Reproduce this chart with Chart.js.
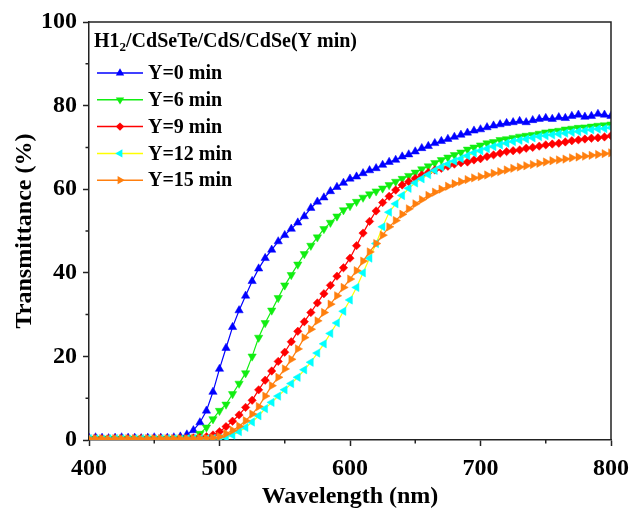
<!DOCTYPE html>
<html>
<head>
<meta charset="utf-8">
<script src="https://cdn.jsdelivr.net/npm/chart.js@4.4.1/dist/chart.umd.min.js"></script>
<style>
  html, body { margin: 0; padding: 0; background: #fff; }
  #box { width: 630px; height: 511px; }
</style>
</head>
<body>
<div id="box"><canvas id="chartTrans"></canvas></div>
<script>
// wavelength grid (nm)
const wavelength = [400, 405, 410, 415, 420, 425, 430, 435, 440, 445, 450, 455, 460, 465, 470, 475, 480, 485, 490, 495,
  500, 505, 510, 515, 520, 525, 530, 535, 540, 545, 550, 555, 560, 565, 570, 575, 580, 585, 590, 595,
  600, 605, 610, 615, 620, 625, 630, 635, 640, 645, 650, 655, 660, 665, 670, 675, 680, 685, 690, 695,
  700, 705, 710, 715, 720, 725, 730, 735, 740, 745, 750, 755, 760, 765, 770, 775, 780, 785, 790, 795, 800];

const y0min = [0.5, 0.6, 0.5, 0.4, 0.5, 0.6, 0.5, 0.5, 0.4, 0.5, 0.6, 0.5, 0.5, 0.6, 0.8, 1.3, 2.3, 4.2, 7, 11.5,
  17, 22, 27, 31, 34.5, 38, 41, 43.5, 45.5, 47.5, 49, 50.5, 52, 53.5, 55.5, 57, 58, 59.5, 60.5, 61.5,
  62.5, 63, 63.8, 64.5, 65, 65.8, 66.5, 67, 67.8, 68.3, 69, 69.8, 70.3, 71, 71.5, 72, 72.5, 73, 73.5, 74,
  74.3, 74.8, 75.2, 75.5, 75.8, 76, 76.3, 76, 76.5, 76.8, 77, 76.8, 77.2, 77, 77.5, 77.8, 77.3, 77.5, 78, 77.8, 77.5];

const y6min = [0.3, 0.2, 0.3, 0.3, 0.2, 0.3, 0.3, 0.2, 0.3, 0.3, 0.2, 0.3, 0.3, 0.3, 0.4, 0.4, 0.6, 1.5, 3, 5,
  7, 8.5, 11, 13.5, 16, 20, 24.5, 28, 31, 34, 37, 39.5, 42, 44.5, 46.5, 48.5, 50.5, 52, 53.5, 55,
  56, 57, 58, 58.8, 59.5, 60.2, 61, 61.8, 62.5, 63.2, 64, 64.8, 65.5, 66.3, 67, 67.6, 68.2, 68.8, 69.5, 70,
  70.5, 71, 71.3, 71.8, 72, 72.3, 72.6, 72.8, 73, 73.3, 73.6, 73.8, 74, 74.3, 74.5, 74.7, 74.8, 75, 75.2, 75.3, 75.5];

const y9min = [0.3, 0.4, 0.3, 0.3, 0.4, 0.3, 0.3, 0.3, 0.4, 0.3, 0.3, 0.4, 0.3, 0.3, 0.4, 0.4, 0.5, 0.6, 0.8, 1.2,
  2, 3.2, 4.5, 6, 7.8, 9.5, 12, 14.3, 16.5, 18.8, 21, 23.5, 26, 28.3, 30.5, 32.8, 35, 37, 39.2, 41.2,
  43.5, 46.5, 49.5, 52.3, 54.8, 56.8, 58.3, 59.8, 61, 61.8, 62.6, 63.4, 64, 64.6, 65, 65.5, 66, 66.3, 66.5, 67,
  67.3, 67.8, 68.2, 68.6, 69, 69.2, 69.4, 69.8, 70, 70.3, 70.6, 70.8, 71, 71.3, 71.6, 71.8, 72, 72.2, 72.3, 72.5, 72.8];

const y12min = [0.3, 0.3, 0.2, 0.3, 0.3, 0.3, 0.2, 0.3, 0.3, 0.3, 0.2, 0.3, 0.3, 0.3, 0.2, 0.3, 0.3, 0.3, 0.3, 0.4,
  0.4, 0.6, 1.2, 2, 3, 4.3, 5.8, 7.5, 9, 10.5, 12, 13.5, 15, 16.8, 18.6, 20.8, 23, 25.5, 28, 30.8,
  33.5, 36.5, 40, 43.5, 47, 51, 54.5, 56.5, 58.5, 60.2, 61.5, 62.5, 63.5, 64.5, 65.3, 66, 66.7, 67.3, 68, 68.7,
  69.2, 69.7, 70.2, 70.6, 71, 71.4, 71.7, 72, 72.3, 72.6, 72.8, 73, 73.2, 73.4, 73.6, 73.8, 74, 74.2, 74.4, 74.5, 74.7];

const y15min = [0.3, 0.3, 0.3, 0.2, 0.3, 0.3, 0.3, 0.3, 0.2, 0.3, 0.3, 0.3, 0.3, 0.3, 0.3, 0.3, 0.3, 0.4, 0.4, 0.5,
  0.8, 1.5, 2.3, 3.3, 4.6, 6.2, 8, 10.5, 13, 15, 17, 19.3, 21.8, 24.5, 26.5, 28.5, 30.5, 32.5, 34.5, 36.5,
  38.5, 40.5, 42.8, 45, 47, 49, 51, 52.5, 54, 55.3, 56.5, 57.5, 58.5, 59.3, 60, 60.7, 61.3, 61.8, 62.3, 62.7,
  63, 63.4, 63.8, 64.2, 64.6, 65, 65.3, 65.6, 65.9, 66.2, 66.5, 66.8, 67, 67.2, 67.5, 67.7, 67.9, 68.1, 68.3, 68.5, 68.7];

const seriesNames = ['Y=0 min', 'Y=6 min', 'Y=9 min', 'Y=12 min', 'Y=15 min'];
const xMinor = [450, 550, 650, 750];
const yMinor = [10, 30, 50, 70, 90];

const serif = '"Liberation Serif", "Times New Roman", serif';

function pares(lista) {
  return wavelength.map((w, i) => ({ x: w, y: lista[i] }));
}

function serie(nome, lista, linha, cor, estilo, rot, ordem) {
  return {
    label: nome,
    data: pares(lista),
    borderColor: linha,
    borderWidth: 1.2,
    pointStyle: estilo,
    rotation: rot,
    pointRadius: estilo === 'rectRot' ? 4.2 : 4.8,
    pointBackgroundColor: cor,
    pointBorderColor: cor,
    pointBorderWidth: 0.5,
    tension: 0,
    order: ordem
  };
}

// desenha marcador da legenda
function marcador(ctx, estilo, rot, r, x, y) {
  ctx.beginPath();
  if (estilo === 'rectRot') {
    ctx.moveTo(x, y - r); ctx.lineTo(x + r, y); ctx.lineTo(x, y + r); ctx.lineTo(x - r, y);
  } else {
    let a = rot * Math.PI / 180;
    for (let k = 0; k < 3; k++) {
      const px = x + Math.sin(a) * r, py = y - Math.cos(a) * r;
      if (k === 0) ctx.moveTo(px, py); else ctx.lineTo(px, py);
      a += 2 * Math.PI / 3;
    }
  }
  ctx.closePath();
  ctx.fill();
}

const molduraPlugin = {
  id: 'moldura',
  afterDraw(chart) {
    const { ctx, chartArea: a, scales } = chart;
    ctx.save();
    ctx.strokeStyle = '#222';
    ctx.lineWidth = 1.5;
    ctx.beginPath();
    ctx.moveTo(a.left, a.top);
    ctx.lineTo(a.right, a.top);
    ctx.lineTo(a.right, a.bottom);
    ctx.stroke();

    ctx.beginPath();
    xMinor.forEach(v => {
      const px = scales.x.getPixelForValue(v);
      ctx.moveTo(px, a.bottom);
      ctx.lineTo(px, a.bottom + 3.5);
    });
    yMinor.forEach(v => {
      const py = scales.y.getPixelForValue(v);
      ctx.moveTo(a.left, py);
      ctx.lineTo(a.left - 3.5, py);
    });
    ctx.stroke();

    // legenda dentro do grafico
    const x0 = a.left + 8;
    ctx.fillStyle = '#000';
    ctx.textBaseline = 'middle';
    ctx.textAlign = 'left';
    ctx.font = 'bold 20px ' + serif;
    let tx = a.left + 5;
    const ty = a.top + 20;
    ctx.fillText('H1', tx, ty);
    tx += ctx.measureText('H1').width;
    ctx.font = 'bold 13px ' + serif;
    ctx.fillText('2', tx, ty + 6);
    tx += ctx.measureText('2').width;
    ctx.font = 'bold 20px ' + serif;
    ctx.fillText('/CdSeTe/CdS/CdSe(Y min)', tx, ty);

    chart.data.datasets.forEach((ds, i) => {
      const ly = a.top + 51 + i * 26.8;
      ctx.strokeStyle = ds.borderColor;
      ctx.lineWidth = 1.5;
      ctx.beginPath();
      ctx.moveTo(x0, ly);
      ctx.lineTo(x0 + 46, ly);
      ctx.stroke();
      ctx.fillStyle = ds.pointBackgroundColor;
      marcador(ctx, ds.pointStyle, ds.rotation, ds.pointRadius, x0 + 23, ly);
      ctx.fillStyle = '#000';
      ctx.font = 'bold 20px ' + serif;
      ctx.fillText(ds.label, x0 + 51, ly + 1);
    });
    ctx.restore();
  }
};

document.addEventListener('DOMContentLoaded', () => {
  const ctxTrans = document.getElementById('chartTrans');

  new Chart(ctxTrans, {
    type: 'line',
    data: {
      datasets: [
        serie(seriesNames[0], y0min, '#0000ff', '#0000ff', 'triangle', 0, 5),
        serie(seriesNames[1], y6min, '#11ee11', '#11ee11', 'triangle', 180, 4),
        serie(seriesNames[2], y9min, '#ff0000', '#ff0000', 'rectRot', 0, 3),
        serie(seriesNames[3], y12min, '#ffff00', '#00ffff', 'triangle', -90, 2),
        serie(seriesNames[4], y15min, '#ff7f0e', '#ff7f0e', 'triangle', 90, 1)
      ]
    },
    options: {
      responsive: true,
      maintainAspectRatio: false,
      animation: false,
      layout: {
        padding: { top: 22, right: 19, left: 0, bottom: 0 }
      },
      plugins: {
        legend: { display: false },
        tooltip: { enabled: false }
      },
      scales: {
        x: {
          type: 'linear',
          min: 400,
          max: 800,
          afterFit(s) {
            s.height = 71;
            s.paddingLeft = 0;
            s.paddingRight = 0;
          },
          ticks: {
            stepSize: 100,
            color: '#000',
            padding: 8,
            font: { family: serif, size: 24, weight: 'bold' }
          },
          grid: {
            drawOnChartArea: false,
            drawTicks: true,
            tickLength: 6,
            tickColor: '#222',
            tickWidth: 1.5
          },
          border: { color: '#222', width: 1.5 },
          title: {
            display: true,
            text: 'Wavelength (nm)',
            color: '#000',
            padding: { top: 0, bottom: 0 },
            font: { family: serif, size: 24, weight: 'bold' }
          }
        },
        y: {
          min: 0,
          max: 100,
          afterFit(s) { s.width = 89; },
          ticks: {
            stepSize: 20,
            color: '#000',
            padding: 6,
            font: { family: serif, size: 24, weight: 'bold' }
          },
          grid: {
            drawOnChartArea: false,
            drawTicks: true,
            tickLength: 6,
            tickColor: '#222',
            tickWidth: 1.5
          },
          border: { color: '#222', width: 1.5 },
          title: {
            display: true,
            text: 'Transmittance (%)',
            color: '#000',
            padding: { top: 10, bottom: 0 },
            font: { family: serif, size: 24, weight: 'bold' }
          }
        }
      }
    },
    plugins: [molduraPlugin]
  });
});
</script>
</body>
</html>
